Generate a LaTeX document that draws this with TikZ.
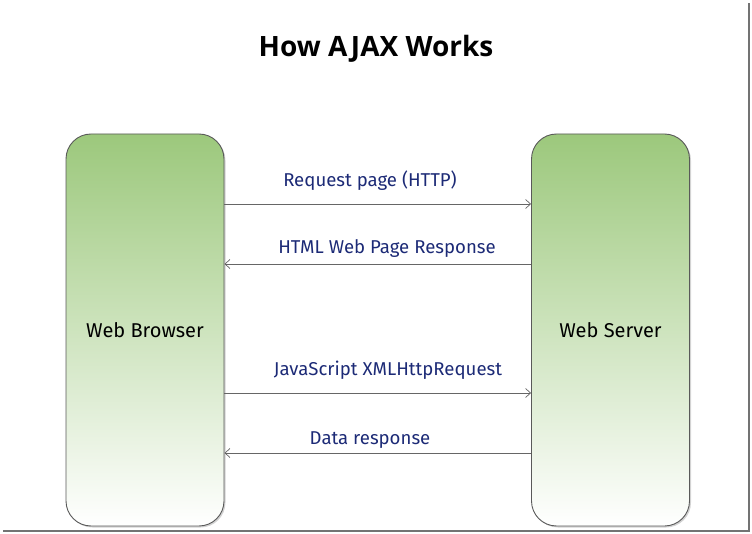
\documentclass[tikz,border=0pt]{standalone}
\usepackage{fontspec}
\setmainfont{Open Sans}
\newfontfamily\handfont{Fira Sans}
\usetikzlibrary{positioning,arrows.meta,shadows}
\definecolor{boxgreen}{RGB}{156,200,124}
\definecolor{msgblue}{RGB}{28,42,118}

\begin{document}
\begin{tikzpicture}[
    x=1pt, y=-1pt,
    side/.style={draw=black!65, line width=0.9pt, rounded corners=25pt,
      minimum width=158pt, minimum height=392pt,
      top color=boxgreen, middle color=boxgreen!40, bottom color=white,
      drop shadow={shadow xshift=1.5pt, shadow yshift=-1.5pt, opacity=0.35},
      font=\handfont\fontsize{20}{23}\selectfont},
    lbl/.style={text=msgblue, font=\handfont\fontsize{18.6}{21}\selectfont},
    msg/.style={-{Straight Barb[length=5pt, width=9pt]}, black!60, line width=0.7pt},
  ]
  \useasboundingbox (0,0) rectangle (752,534);
  % frame shadow
  \draw[black!55, line width=1.6pt] (3,531) -- (749,531) -- (749,3);

  % title
  \node[font=\bfseries\fontsize{28}{32}\selectfont] (title) at (376,49) {How AJAX Works};

  % the two ends
  \node[side] (browser) at (145,330) {Web Browser};
  \node[side] (server) at (610.5,330) {Web Server};

  % message levels
  \coordinate (m1) at (0,204);
  \coordinate (m2) at (0,264);
  \coordinate (m3) at (0,393);
  \coordinate (m4) at (0,453);

  \draw[msg] (browser.east |- m1) -- (server.west |- m1);
  \draw[msg] (server.west |- m2) -- (browser.east |- m2);
  \draw[msg] (browser.east |- m3) -- (server.west |- m3);
  \draw[msg] (server.west |- m4) -- (browser.east |- m4);

  \node[lbl] (req) at (370,181) {Request page (HTTP)};
  \node[lbl] (resp) at (387,249) {HTML Web Page Response};
  \node[lbl] (xhr) at (388,370) {JavaScript XMLHttpRequest};
  \node[lbl] (data) at (370,440) {Data response};
\end{tikzpicture}
\end{document}
